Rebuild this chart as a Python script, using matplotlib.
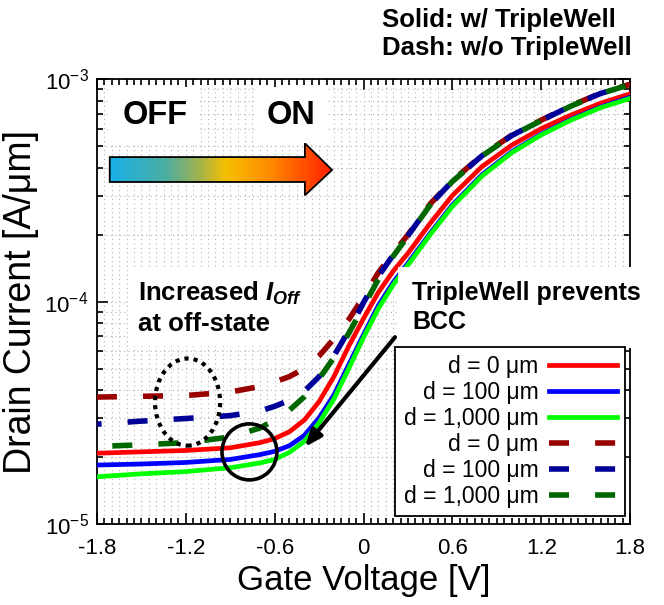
import numpy as np
import matplotlib
matplotlib.use("Agg")
import matplotlib.pyplot as plt
from matplotlib.patches import Polygon, Ellipse
from matplotlib.image import AxesImage
from matplotlib.colors import LinearSegmentedColormap
from matplotlib.ticker import MultipleLocator, LogLocator, NullFormatter

plt.rcParams['font.family'] = ['Liberation Sans', 'DejaVu Sans']
plt.rcParams['mathtext.fontset'] = 'custom'
plt.rcParams['mathtext.rm'] = 'Liberation Sans'
plt.rcParams['mathtext.it'] = 'Liberation Sans:italic:bold'
plt.rcParams['mathtext.bf'] = 'Liberation Sans:bold'

# gate voltage [V]
vg = [-1.8, -1.5, -1.2, -0.9, -0.7, -0.6, -0.5, -0.4, -0.3, -0.2, -0.1, 0.0,
      0.1, 0.2, 0.3, 0.45, 0.6, 0.8, 1.0, 1.2, 1.4, 1.6, 1.8]

# with TripleWell (solid)
tw_d0 = [2.08e-5, 2.11e-5, 2.14e-5, 2.2e-5, 2.32e-5, 2.42e-5, 2.6e-5, 2.93e-5,
         3.55e-5, 4.6e-5, 6.3e-5, 8.4e-5, 1.1e-4, 1.37e-4, 1.65e-4, 2.25e-4,
         3.0e-4, 4.05e-4, 5.05e-4, 6.0e-4, 6.9e-4, 7.8e-4, 8.6e-4]
tw_d100 = [1.84e-5, 1.86e-5, 1.89e-5, 1.95e-5, 2.05e-5, 2.12e-5, 2.25e-5, 2.5e-5,
           3.0e-5, 3.8e-5, 5.2e-5, 7.1e-5, 9.6e-5, 1.22e-4, 1.49e-4, 2.03e-4,
           2.72e-4, 3.72e-4, 4.72e-4, 5.67e-4, 6.6e-4, 7.5e-4, 8.3e-4]
tw_d1000 = [1.63e-5, 1.68e-5, 1.72e-5, 1.79e-5, 1.88e-5, 1.95e-5, 2.1e-5, 2.35e-5,
            2.85e-5, 3.65e-5, 5.0e-5, 6.9e-5, 9.3e-5, 1.19e-4, 1.46e-4, 2.0e-4,
            2.68e-4, 3.67e-4, 4.67e-4, 5.62e-4, 6.55e-4, 7.45e-4, 8.2e-4]

# without TripleWell (dashed)
no_d0 = [3.72e-5, 3.75e-5, 3.78e-5, 3.92e-5, 4.15e-5, 4.35e-5, 4.6e-5, 5.0e-5,
         5.7e-5, 6.8e-5, 8.3e-5, 1.05e-4, 1.35e-4, 1.65e-4, 2.0e-4, 2.75e-4,
         3.5e-4, 4.55e-4, 5.6e-4, 6.55e-4, 7.6e-4, 8.65e-4, 9.5e-4]
no_d100 = [2.81e-5, 2.9e-5, 2.98e-5, 3.07e-5, 3.22e-5, 3.38e-5, 3.6e-5, 3.95e-5,
           4.6e-5, 5.7e-5, 7.4e-5, 9.9e-5, 1.3e-4, 1.62e-4, 1.98e-4, 2.73e-4,
           3.48e-4, 4.53e-4, 5.58e-4, 6.53e-4, 7.58e-4, 8.63e-4, 9.48e-4]
no_d1000 = [2.23e-5, 2.27e-5, 2.32e-5, 2.46e-5, 2.7e-5, 2.93e-5, 3.25e-5, 3.73e-5,
            4.5e-5, 5.6e-5, 7.2e-5, 9.5e-5, 1.26e-4, 1.6e-4, 1.97e-4, 2.72e-4,
            3.47e-4, 4.52e-4, 5.57e-4, 6.52e-4, 7.57e-4, 8.62e-4, 9.47e-4]

labels = ["d = 0 μm", "d = 100 μm", "d = 1,000 μm"]
xticks = [-1.8, -1.2, -0.6, 0, 0.6, 1.2, 1.8]
xticklabels = ["-1.8", "-1.2", "-0.6", "0", "0.6", "1.2", "1.8"]

dash = (3.6, 4.7)

fig = plt.figure(figsize=(6.64, 6.05), dpi=100)
ax = fig.add_axes([0.146, 0.134, 0.803, 0.735])

ax.plot(vg, tw_d0, color='#ff0000', lw=3.4, label=labels[0], zorder=3)
ax.plot(vg, tw_d100, color='#0000ff', lw=3.4, label=labels[1], zorder=3)
ax.plot(vg, tw_d1000, color='#00ff00', lw=3.4, label=labels[2], zorder=3)
ax.plot(vg, no_d0, color='#990000', lw=4, linestyle=(0, dash), label=labels[0], zorder=4)
ax.plot(vg, no_d100, color='#000099', lw=4, linestyle=(2.77, dash), label=labels[1], zorder=4)
ax.plot(vg, no_d1000, color='#006600', lw=4, linestyle=(5.53, dash), label=labels[2], zorder=4)

ax.set_yscale('log')
ax.set_xlim(-1.8, 1.8)
ax.set_ylim(1e-5, 1e-3)
ax.set_xticks(xticks)
ax.set_xticklabels(xticklabels)
ax.xaxis.set_minor_locator(MultipleLocator(0.05))
ax.yaxis.set_minor_locator(LogLocator(base=10, subs=np.arange(2, 10)))
ax.yaxis.set_minor_formatter(NullFormatter())
ax.tick_params(which='both', direction='in', top=True, right=True, labelsize=16, width=1.2)
ax.tick_params(which='major', length=8)
ax.tick_params(axis='x', which='major', pad=10)
ax.tick_params(axis='y', which='major', pad=6)
ax.tick_params(which='minor', length=4)
ax.grid(which='both', color='#b5b5b5', linestyle=(0, (1, 3)), lw=0.8)
for s in ax.spines.values():
    s.set_linewidth(1.3)

ax.set_xlabel("Gate Voltage [V]", fontsize=25, labelpad=4)
ax.set_ylabel("Drain Current [A/μm]", fontsize=27, labelpad=4)

# markerfirst=False packs rows right-aligned, so labels end next to the handles
leg = ax.legend(loc='lower right', bbox_to_anchor=(0.991, 0.018), borderaxespad=0,
                fontsize=16.5, markerfirst=False, handlelength=3.0, handletextpad=0.45,
                labelspacing=0.13, borderpad=0.35, fancybox=False, framealpha=1,
                edgecolor='black')
leg.get_frame().set_linewidth(1.3)
leg.set_zorder(10)
for ln in leg.get_lines()[3:]:
    ln.set_linestyle((0, dash))

# gradient arrow OFF -> ON
arrow = [(0.024, 0.769), (0.390, 0.769), (0.390, 0.739), (0.441, 0.796),
         (0.390, 0.856), (0.390, 0.825), (0.024, 0.825)]
poly = Polygon(arrow, closed=True, transform=ax.transAxes, facecolor='none',
               edgecolor='black', lw=1.3, zorder=7)
ax.add_patch(poly)
cmap = LinearSegmentedColormap.from_list(
    'offon', [(0.0, '#18b0ea'), (0.25, '#4caea0'), (0.4, '#a2b24e'),
              (0.52, '#f6c000'), (0.72, '#ff8a00'), (1.0, '#ff1e00')])
im = AxesImage(ax, cmap=cmap, extent=(0.024, 0.441, 0.739, 0.856),
               transform=ax.transAxes, interpolation='bilinear', zorder=6)
im.set_data(np.linspace(0, 1, 256).reshape(1, -1))
ax.add_image(im)
im.set_clip_path(poly)

ax.text(0.109, 0.919, "OFF", transform=ax.transAxes, fontsize=23.5, fontweight='bold',
        ha='center', va='center', zorder=8,
        bbox=dict(facecolor='white', edgecolor='none', pad=9))
ax.text(0.364, 0.919, "ON", transform=ax.transAxes, fontsize=23.5, fontweight='bold',
        ha='center', va='center', zorder=8,
        bbox=dict(facecolor='white', edgecolor='none', pad=9))
ax.text(0.077, 0.485, "Increased $I_{Off}$\nat off-state", transform=ax.transAxes,
        fontsize=18.5, fontweight='bold', ha='left', va='center', linespacing=1.25,
        zorder=8, bbox=dict(facecolor='white', edgecolor='none', pad=7))
ax.text(0.591, 0.487, "TripleWell prevents\nBCC", transform=ax.transAxes,
        fontsize=18, fontweight='bold', ha='left', va='center', linespacing=1.25,
        zorder=8, bbox=dict(facecolor='white', edgecolor='none', pad=10))

ax.add_patch(Ellipse((0.170, 0.274), 0.122, 0.196, transform=ax.transAxes, fill=False,
                     edgecolor='black', lw=3, linestyle=(0, (1, 1.2)), zorder=9))
ax.add_patch(Ellipse((0.286, 0.162), 0.103, 0.126, transform=ax.transAxes, fill=False,
                     edgecolor='black', lw=2.6, zorder=9))
ax.annotate("", xy=(0.390, 0.173), xytext=(0.559, 0.420), xycoords='axes fraction',
            textcoords='axes fraction', zorder=9,
            arrowprops=dict(arrowstyle='-|>,head_length=1.0,head_width=0.4',
                            color='black', lw=3, shrinkA=0, shrinkB=0))

fig.text(0.575, 0.967, "Solid: w/ TripleWell", fontsize=18.5, fontweight='bold',
         ha='left', va='center')
fig.text(0.575, 0.921, "Dash: w/o TripleWell", fontsize=18.5, fontweight='bold',
         ha='left', va='center')

fig.savefig("out.png", dpi=100)
